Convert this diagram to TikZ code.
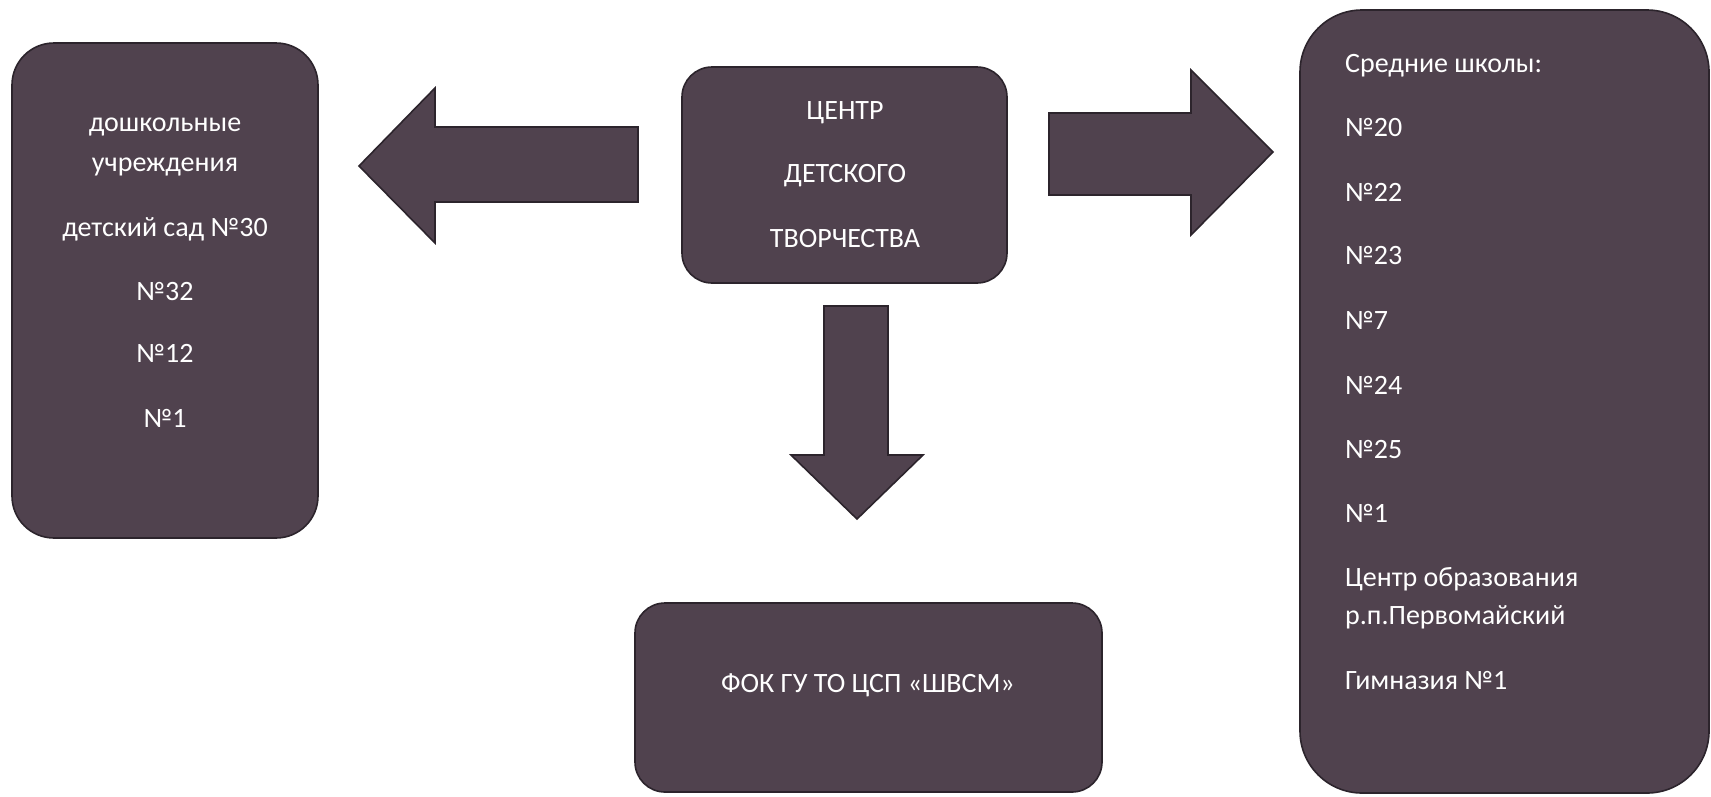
\documentclass[tikz,border=0pt]{standalone}
\usepackage{fontspec}
\setmainfont{Carlito}
\begin{document}
\begin{tikzpicture}[x=1pt,y=-1pt,
  boxfill/.style={fill=boxcol,draw=boxline,line width=1.6pt},
  panel/.style={boxfill,rounded corners=#1},
  lbl/.style={text=white,inner sep=0pt,font=\fontsize{28}{33}\selectfont},
  blockarrow/.style={boxfill,line join=miter}]
\definecolor{boxcol}{RGB}{80,66,78}
\definecolor{boxline}{RGB}{44,36,44}
\useasboundingbox[fill=white] (0,0) rectangle (1711,796);
% boxes
\draw[panel=42pt] (12,43) rectangle (318,538);
\node[inner sep=0pt] (left) at (165,290) {};
\draw[panel=30pt] (682,67) rectangle (1007,283);
\node[inner sep=0pt] (center) at (844,175) {};
\draw[panel=30pt] (635,603) rectangle (1102,792);
\node[inner sep=0pt] (bottom) at (868,697) {};
\draw[panel=62pt] (1300,10) rectangle (1709,793);
\node[inner sep=0pt] (right) at (1504,400) {};
% block arrows
\draw[blockarrow] (638,127) -- (435,127) -- (435,88) -- (359,166) -- (435,243) -- (435,202) -- (638,202) -- cycle;
\draw[blockarrow] (1049,113) -- (1191,113) -- (1191,70) -- (1273,152) -- (1191,235) -- (1191,195) -- (1049,195) -- cycle;
\draw[blockarrow] (824,306) -- (888,306) -- (888,455) -- (923,455) -- (857,519) -- (791,455) -- (824,455) -- cycle;
% left box text
\node[lbl,anchor=base] (l1) at (165,131) {дошкольные};
\node[lbl,anchor=base] (l2) at (165,171) {учреждения};
\node[lbl,anchor=base] (l3) at (165,236) {детский сад №30};
\node[lbl,anchor=base] (l4) at (165,300) {№32};
\node[lbl,anchor=base] (l5) at (165,362) {№12};
\node[lbl,anchor=base] (l6) at (165,427) {№1};
% center box text
\node[lbl,anchor=base] (c1) at (845,119) {ЦЕНТР};
\node[lbl,anchor=base] (c2) at (845,182) {ДЕТСКОГО};
\node[lbl,anchor=base] (c3) at (845,247) {ТВОРЧЕСТВА};
% bottom box text
\node[lbl,anchor=base] (b1) at (868,692) {ФОК ГУ ТО ЦСП «ШВСМ»};
% right box text
\node[lbl,anchor=base west] (r1) at (1345,72) {Средние школы:};
\node[lbl,anchor=base west] (r2) at (1345,136) {№20};
\node[lbl,anchor=base west] (r3) at (1345,201) {№22};
\node[lbl,anchor=base west] (r4) at (1345,264) {№23};
\node[lbl,anchor=base west] (r5) at (1345,329) {№7};
\node[lbl,anchor=base west] (r6) at (1345,394) {№24};
\node[lbl,anchor=base west] (r7) at (1345,458) {№25};
\node[lbl,anchor=base west] (r8) at (1345,522) {№1};
\node[lbl,anchor=base west] (r9) at (1345,586) {Центр образования};
\node[lbl,anchor=base west] (r10) at (1345,624) {р.п.Первомайский};
\node[lbl,anchor=base west] (r11) at (1345,689) {Гимназия №1};
\end{tikzpicture}
\end{document}
